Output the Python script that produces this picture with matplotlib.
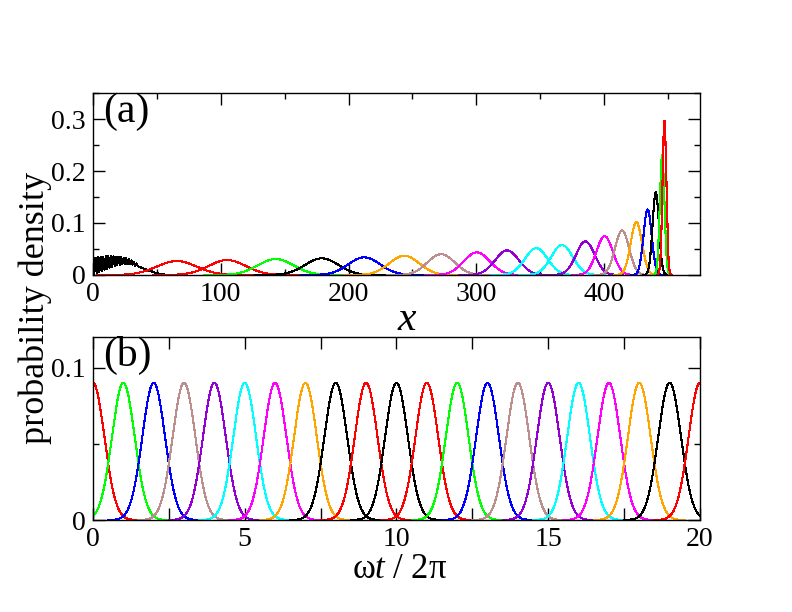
import numpy as np
import matplotlib.pyplot as plt
from matplotlib.ticker import MultipleLocator, FuncFormatter

# panel (a): starting packet near x = 0 (dense ripples)
init_x = [0, 1, 2, 3, 4, 5, 6, 7, 8, 9, 10, 11, 12, 13, 14, 15, 16, 17, 18, 19,
          20, 21, 22, 23, 24, 25, 26, 27, 28, 29, 30, 31, 32, 33, 34, 35,
          36, 38, 40, 42, 44, 46, 48, 50, 52, 54, 56, 58, 60]
init_y = [0.031, 0.002, 0.033, 0.004, 0.034, 0.006, 0.035, 0.008, 0.035, 0.010,
          0.036, 0.012, 0.036, 0.014, 0.036, 0.016, 0.036, 0.018, 0.035, 0.019,
          0.035, 0.020, 0.034, 0.021, 0.033, 0.022, 0.032, 0.021, 0.030, 0.021,
          0.028, 0.020, 0.025, 0.018, 0.022, 0.017,
          0.016, 0.014, 0.012, 0.010, 0.0085, 0.007, 0.005, 0.0035, 0.0025,
          0.0015, 0.0008, 0.0003, 0.0]

# panel (a): later packets (centre, peak height, width)
a_center = [65.5, 105, 143, 179, 212.3, 243.6, 272.4, 300.4, 324, 346.9,
            367, 385.3, 400.4, 414, 425.2, 434, 440.4, 445.4, 447.2]
a_height = [0.0268, 0.0287, 0.0306, 0.032, 0.0339, 0.037, 0.040, 0.0435, 0.0473, 0.0517,
            0.0575, 0.0645, 0.0747, 0.0856, 0.102, 0.126, 0.159, 0.230, 0.297]
a_width = [15.5, 14.5, 14.0, 13.0, 12.4, 11.7, 10.6, 10.2, 9.3, 8.8,
           8.4, 7.3, 6.4, 5.5, 4.4, 3.2, 2.5, 1.8, 1.5]
a_color = ["red", "red", "lime", "black", "blue", "orange", "#bc8f8f", "magenta",
           "#9400d3", "cyan", "cyan", "#9400d3", "magenta", "#bc8f8f", "orange",
           "blue", "black", "lime", "red"]

# panel (b): packets vs time
b_center = [0, 1, 2, 3, 4, 5, 6, 7, 8, 9, 10, 11, 12, 13, 14, 15, 16, 17, 18, 19, 20]
b_height = 0.09
b_width = 0.375
b_color = ["red", "lime", "blue", "#bc8f8f", "#9400d3", "cyan", "magenta", "orange",
           "black", "red", "black", "red", "lime", "blue", "#bc8f8f", "#9400d3",
           "cyan", "magenta", "orange", "black", "red"]

plt.rcParams["font.family"] = ["Liberation Serif", "DejaVu Serif"]
plt.rcParams["mathtext.fontset"] = "custom"
plt.rcParams["mathtext.rm"] = "Liberation Serif"
plt.rcParams["mathtext.it"] = "Liberation Serif:italic"


def packet(c, h, w, lo, hi):
    xs = np.linspace(max(lo, c - 4 * w), min(hi, c + 4 * w), 400)
    return xs, h * np.exp(-(xs - c) ** 2 / (2 * w ** 2))


def style_axis(ax):
    for s in ax.spines.values():
        s.set_linewidth(1.0)
    ax.tick_params(which="both", direction="in", top=True, right=True,
                   labelsize=20, pad=5, width=1.0)
    ax.tick_params(which="major", length=8.6)
    ax.tick_params(which="minor", length=4.3)


fig = plt.figure(figsize=(7.92, 6.12), dpi=100)
ax1 = fig.add_axes([0.1174, 0.5507, 0.7664, 0.2973])
ax2 = fig.add_axes([0.1174, 0.1503, 0.7664, 0.2990])

ax1.plot(init_x, init_y, color="black", lw=0.8, antialiased=False)
for c, h, w, col in zip(a_center, a_height, a_width, a_color):
    xs, ys = packet(c, h, w, 0, 475)
    ax1.plot(xs, ys, color=col, lw=0.8, antialiased=False)
ax1.set_xlim(0, 475)
ax1.set_ylim(0, 0.35)
ax1.xaxis.set_major_locator(MultipleLocator(100))
ax1.xaxis.set_minor_locator(MultipleLocator(50))
ax1.yaxis.set_major_locator(MultipleLocator(0.1))
ax1.yaxis.set_minor_locator(MultipleLocator(0.05))
ax1.xaxis.set_major_formatter(FuncFormatter(lambda v, p: f"{v:g}"))
ax1.yaxis.set_major_formatter(FuncFormatter(lambda v, p: f"{v:g}"))
style_axis(ax1)
ax1.text(0.016, 1.005, "(a)", transform=ax1.transAxes, fontsize=30, va="top", ha="left")

for c, col in zip(b_center, b_color):
    xs, ys = packet(c, b_height, b_width, 0, 20)
    ax2.plot(xs, ys, color=col, lw=0.8, antialiased=False)
ax2.set_xlim(0, 20)
ax2.set_ylim(0, 0.12)
ax2.xaxis.set_major_locator(MultipleLocator(2.5))
ax2.yaxis.set_major_locator(MultipleLocator(0.1))
ax2.yaxis.set_minor_locator(MultipleLocator(0.05))
ax2.xaxis.set_major_formatter(FuncFormatter(lambda v, p: f"{v:g}" if v % 5 == 0 else ""))
ax2.yaxis.set_major_formatter(FuncFormatter(lambda v, p: f"{v:g}"))
style_axis(ax2)
ax2.text(0.016, 1.005, "(b)", transform=ax2.transAxes, fontsize=30, va="top", ha="left")

fig.text(35 / 792, 1 - 308 / 612, "probability density", rotation=90,
         ha="center", va="center", fontsize=26)
fig.text(407 / 792, 1 - 330 / 612, r"$x$", ha="center", va="baseline", fontsize=30)
fig.text(400 / 792, 1 - 578 / 612, r"$\mathrm{\omega}t\ /\ 2\mathrm{\pi}$",
         ha="center", va="baseline", fontsize=25)

fig.savefig("out.png", dpi=100)
